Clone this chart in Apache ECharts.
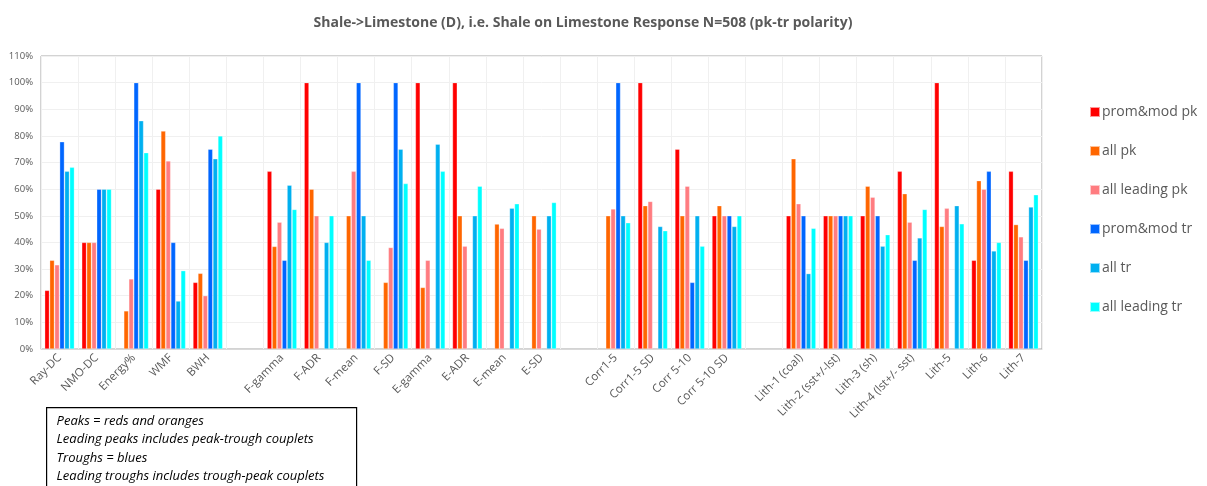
<!DOCTYPE html>
<html>
<head>
<meta charset="utf-8">
<script src="https://cdn.jsdelivr.net/npm/echarts@6/dist/echarts.min.js"></script>
<style>
  html, body { margin: 0; padding: 0; background: #fff; }
  #chart { width: 1207px; height: 486px; }
</style>
</head>
<body>
<div id="chart"></div>
<script>
// categories ('' = spacer columns between groups)
const categories = ['Ray-DC', 'NMO-DC', 'Energy%', 'WMF', 'BWH', '',
  'F-gamma', 'F-ADR', 'F-mean', 'F-SD', 'E-gamma', 'E-ADR', 'E-mean', 'E-SD', '',
  'Corr1-5', 'Corr1-5 SD', 'Corr 5-10', 'Corr 5-10 SD', '',
  'Lith-1 (coal)', 'Lith-2 (sst+/-lst)', 'Lith-3 (sh)', 'Lith-4 (lst+/- sst)', 'Lith-5', 'Lith-6', 'Lith-7'];

const promModPk = [22, 40, null, 60, 25, null,
  66.7, 100, null, null, 100, 100, null, null, null,
  null, 100, 75, 50, null,
  50, 50, 50, 66.7, 100, 33.3, 66.7];
const allPk = [33.3, 40, 14.3, 81.8, 28.4, null,
  38.5, 60, 50, 25, 23.1, 50, 46.9, 50, null,
  50, 53.8, 50, 53.8, null,
  71.4, 50, 61.1, 58.3, 46, 63.2, 46.7];
const allLeadingPk = [31.6, 40, 26.3, 70.6, 20, null,
  47.6, 50, 66.7, 38.1, 33.3, 38.6, 45.3, 45, null,
  52.6, 55.4, 61.1, 50, null,
  54.5, 50, 57, 47.6, 52.8, 60, 42.1];
const promModTr = [77.8, 60, 100, 40, 75, null,
  33.3, null, 100, 100, null, null, null, null, null,
  100, null, 25, 50, null,
  50, 50, 50, 33.3, null, 66.7, 33.3];
const allTr = [66.7, 60, 85.7, 18, 71.4, null,
  61.5, 40, 50, 75, 76.9, 50, 52.8, 50, null,
  50, 46, 50, 46, null,
  28.3, 50, 38.6, 41.7, 53.8, 36.8, 53.3];
const allLeadingTr = [68.2, 60, 73.7, 29.4, 80, null,
  52.4, 50, 33.3, 62.1, 66.7, 61.1, 54.5, 55, null,
  47.4, 44.4, 38.6, 50, null,
  45.3, 50, 42.9, 52.4, 47, 40, 57.9];

const seriesNames = ['prom&mod pk', 'all pk', 'all leading pk', 'prom&mod tr', 'all tr', 'all leading tr'];
const seriesData = [promModPk, allPk, allLeadingPk, promModTr, allTr, allLeadingTr];
const colors = ['#FF0000', '#FF6600', '#FF7C80', '#0066FF', '#00B0F0', '#00FFFF'];

const noteLines = [
  'Peaks = reds and oranges',
  'Leading peaks includes peak-trough couplets',
  'Troughs = blues',
  'Leading troughs includes trough-peak couplets'
];

const chart = echarts.init(document.getElementById('chart'));
const font = 'Open Sans, Noto Sans, sans-serif';

chart.setOption({
  animation: false,
  color: colors,
  title: {
    text: 'Shale->Limestone (D), i.e. Shale on Limestone Response N=508 (pk-tr polarity)',
    left: 578,
    textAlign: 'center',
    top: 11,
    textStyle: { fontFamily: font, fontSize: 14, fontWeight: 'bold', color: '#595959' }
  },
  legend: {
    orient: 'vertical',
    left: 1084,
    top: 100,
    itemWidth: 10,
    itemHeight: 10,
    itemGap: 25,
    icon: 'rect',
    textStyle: { fontFamily: font, fontSize: 14, color: '#595959', padding: [0, 0, 0, -3] },
    data: seriesNames
  },
  grid: {
    left: 41, right: 165, top: 56, bottom: 137,
    show: true, borderColor: '#A6A6A6', borderWidth: 1
  },
  xAxis: {
    type: 'category',
    data: categories,
    axisLine: { lineStyle: { color: '#D9D9D9' } },
    axisTick: { show: false },
    splitLine: { show: true, interval: 0, lineStyle: { color: '#F0F0F0' } },
    axisLabel: {
      interval: 0, rotate: 45, margin: 7,
      fontFamily: font, fontSize: 11.5, color: '#595959'
    }
  },
  yAxis: {
    type: 'value',
    min: 0, max: 110, interval: 10,
    axisLine: { show: false },
    axisTick: { show: false },
    splitLine: { lineStyle: { color: '#F0F0F0' } },
    axisLabel: { formatter: '{value}%', fontFamily: font, fontSize: 9.5, color: '#595959', margin: 8 }
  },
  series: seriesNames.map((name, i) => ({
    name: name,
    type: 'bar',
    data: seriesData[i],
    barGap: '6%',
    barCategoryGap: '20%',
    itemStyle: { borderColor: 'rgba(255,255,255,0.6)', borderWidth: 0.5 }
  })),
  graphic: [{
    type: 'group',
    left: 46,
    top: 407,
    children: [
      { type: 'rect', shape: { x: 0, y: 0, width: 310, height: 90 },
        style: { fill: '#fff', stroke: '#000', lineWidth: 1.2 } },
      ...noteLines.map((t, i) => ({
        type: 'text', x: 10, y: 7 + i * 18.5,
        style: { text: t, fontFamily: font, fontStyle: 'italic', fontSize: 13, fill: '#000' }
      }))
    ]
  }]
});
</script>
</body>
</html>
